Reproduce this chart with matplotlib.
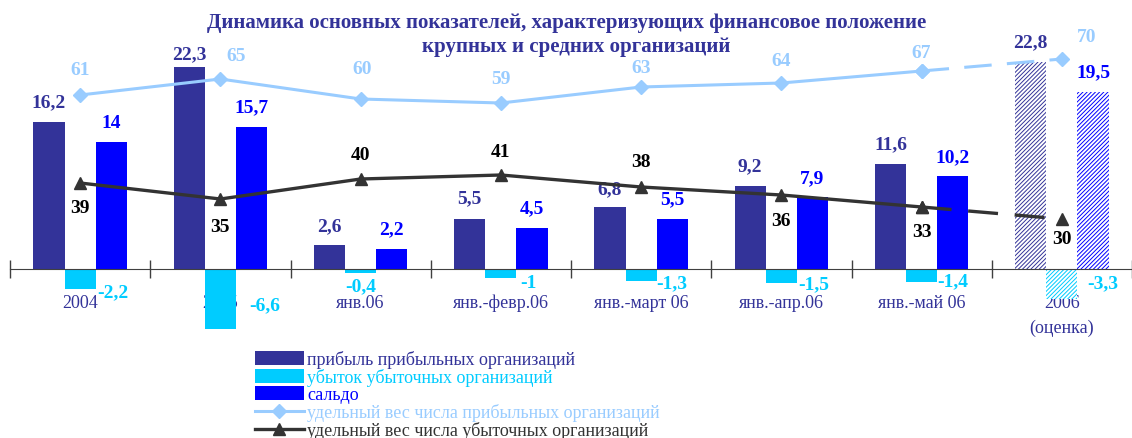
import matplotlib.pyplot as plt
import numpy as np
from matplotlib.lines import Line2D
from matplotlib.patches import Patch

categories = ['2004', '2005', 'янв.06', 'янв.-февр.06', 'янв.-март 06',
              'янв.-апр.06', 'янв.-май 06', '2006\n(оценка)']
profit = [16.2, 22.3, 2.6, 5.5, 6.8, 9.2, 11.6, 22.8]
loss = [-2.2, -6.6, -0.4, -1, -1.3, -1.5, -1.4, -3.3]
balance = [14, 15.7, 2.2, 4.5, 5.5, 7.9, 10.2, 19.5]
share_profitable = [61, 65, 60, 59, 63, 64, 67, 70]
share_unprofitable = [39, 35, 40, 41, 38, 36, 33, 30]

legend_labels = ['прибыль прибыльных организаций',
                 'убыток убыточных организаций',
                 'сальдо',
                 'удельный вес числа прибыльных организаций',
                 'удельный вес числа убыточных организаций']

navy = '#333399'
cyan = '#00CCFF'
blue = '#0000FF'
lblue = '#99CCFF'
dark = '#333333'


def fmt(v):
    return f'{v:g}'.replace('.', ',')


plt.rcParams['font.family'] = ['Liberation Serif', 'DejaVu Serif']
plt.rcParams['hatch.linewidth'] = 0.7

W, H = 1132, 439
fig = plt.figure(figsize=(W / 100, H / 100), dpi=100)

# axes box in pixels
left, right, top, bottom = 10, 1132, 30, 350
gw = 141.7
ax = fig.add_axes([left / W, 1 - bottom / H, (right - left) / W, (bottom - top) / H])
ax.set_xlim(-0.5, -0.5 + (right - left) / gw)
y0, sc = 270, 9.07
ax.set_ylim(-(bottom - y0) / sc, (y0 - top) / sc)

x = np.arange(len(categories))
bw = 0.222

# bars, last group is an estimate -> hatched
for vals, off, col in [(profit, -bw, navy), (loss, 0, cyan), (balance, bw, blue)]:
    bars = ax.bar(x + off, vals, bw, color=col, linewidth=0, zorder=2)
    b = bars[-1]
    b.set_facecolor('white')
    b.set_edgecolor(col)
    b.set_hatch('////////')

# value labels on bars
dark_dy = [20, 13, 20, 21, 19, 20, 20, 20]
for i, v in enumerate(profit):
    ax.annotate(fmt(v), (x[i] - bw, v), xytext=(0, dark_dy[i]), textcoords='offset pixels',
                ha='center', va='center', color=navy, fontsize=14, fontweight='bold')
for i, v in enumerate(balance):
    ax.annotate(fmt(v), (x[i] + bw, v), xytext=(0, 20), textcoords='offset pixels',
                ha='center', va='center', color=blue, fontsize=14, fontweight='bold')
loss_off = [(2, -23), (13, -36), (None, -17), (4, -14), (0, -14), (1, -15), (0, -12), (10, -14)]
for i, v in enumerate(loss):
    dx, dy = loss_off[i]
    if dx is None:
        ax.annotate(fmt(v), (x[i], 0), xytext=(0, dy), textcoords='offset pixels',
                    ha='center', va='center', color=cyan, fontsize=14, fontweight='bold')
    else:
        ax.annotate(fmt(v), (x[i] + bw / 2, 0), xytext=(dx, dy), textcoords='offset pixels',
                    ha='left', va='center', color=cyan, fontsize=14, fontweight='bold')

# x axis
for s in ['top', 'right', 'left']:
    ax.spines[s].set_visible(False)
ax.spines['bottom'].set_position(('data', 0))
ax.spines['bottom'].set_color('#404040')
ax.set_yticks([])
ax.set_xticks(x)
ax.set_xticklabels(categories, color=navy, fontsize=13, linespacing=1.6)
ax.set_xticks(np.arange(len(categories) + 1) - 0.5, minor=True)
ax.tick_params(axis='x', which='major', length=0, pad=18)
ax.tick_params(axis='x', which='minor', direction='inout', length=13, width=1, color='#404040')

# percentage lines on a second scale
ax2 = ax.twinx()
z0, sc2 = 340, 4.0
ax2.set_ylim(-(bottom - z0) / sc2, (z0 - top) / sc2)
ax2.axis('off')

ax2.plot(x[:-1], share_profitable[:-1], color=lblue, lw=2.2, marker='D', ms=7, zorder=3)
ax2.plot(x[-2:], share_profitable[-2:], color=lblue, lw=2.2, ls=(0, (9, 5)), marker='D', ms=7, zorder=3)
ax2.plot(x[:-1], share_unprofitable[:-1], color=dark, lw=2.4, marker='^', ms=9, zorder=3)
ax2.plot(x[-2:], share_unprofitable[-2:], color=dark, lw=2.4, ls=(0, (9, 5)), marker='^', ms=9, zorder=3)

prof_off = [(0, 25), (16, 23), (2, 30), (0, 24), (0, 19), (0, 22), (0, 18), (25, 22)]
for i, v in enumerate(share_profitable):
    ax2.annotate(fmt(v), (x[i], v), xytext=prof_off[i], textcoords='offset pixels',
                 ha='center', va='center', color=lblue, fontsize=14, fontweight='bold')
unprof_dy = [-25, -28, 24, 23, 25, -26, -25, -20]
for i, v in enumerate(share_unprofitable):
    ax2.annotate(fmt(v), (x[i], v), xytext=(0, unprof_dy[i]), textcoords='offset pixels',
                 ha='center', va='center', color='black', fontsize=14, fontweight='bold')

# title
fig.text(567 / W, 1 - 23 / H, 'Динамика основных показателей, характеризующих финансовое положение',
         ha='center', va='center', color=navy, fontsize=15, fontweight='bold')
fig.text(576 / W, 1 - 47 / H, 'крупных и средних организаций',
         ha='center', va='center', color=navy, fontsize=15, fontweight='bold')

# legend
handles = [Patch(facecolor=navy), Patch(facecolor=cyan), Patch(facecolor=blue),
           Line2D([], [], color=lblue, lw=2.2, marker='D', ms=7),
           Line2D([], [], color=dark, lw=2.4, marker='^', ms=9)]
fig.legend(handles, legend_labels, loc='upper left', bbox_to_anchor=(255 / W, 1 - 351 / H),
           frameon=False, fontsize=13, labelcolor=[navy, cyan, blue, lblue, dark],
           handlelength=2.7, handleheight=0.78, handletextpad=0.2, labelspacing=0.0,
           borderpad=0, borderaxespad=0)

fig.savefig('out.png', dpi=100)
